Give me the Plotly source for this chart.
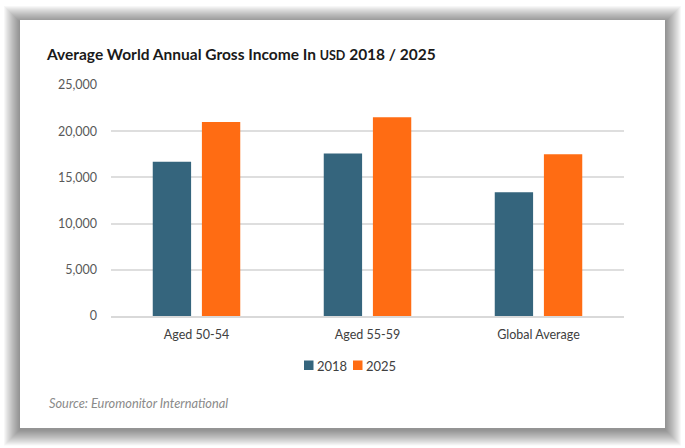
import plotly.graph_objects as go

categories = ["Aged 50-54", "Aged 55-59", "Global Average"]
values_2018 = [16700, 17600, 13400]
values_2025 = [21000, 21500, 17500]
series_names = ["2018", "2025"]
series_colors = ["#35657d", "#ff6c13"]
y_ticks = [0, 5000, 10000, 15000, 20000, 25000]
y_tick_labels = ["0", "5,000", "10,000", "15,000", "20,000", "25,000"]

W, H = 685, 448
L, R, T, B = 111, 61, 85, 132
pw, ph = W - L - R, H - T - B

def px_x(p):
    return (p - L) / pw

def px_y(p):
    return (H - B - p) / ph

fig = go.Figure()
fig.add_trace(go.Bar(x=categories, y=values_2018, name=series_names[0],
                     marker=dict(color=series_colors[0], line=dict(width=0))))
fig.add_trace(go.Bar(x=categories, y=values_2025, name=series_names[1],
                     marker=dict(color=series_colors[1], line=dict(width=0))))

shapes = []
# soft shadow around the card
n_layers = 16
for i in range(n_layers, 0, -1):
    d = i * 1.0
    shapes.append(dict(type="rect", xref="paper", yref="paper", layer="below",
                       x0=px_x(20 - d), x1=px_x(665 + d),
                       y0=px_y(428 + d + 1.5), y1=px_y(20 - d + 2),
                       fillcolor="rgba(0,0,0,0.03)", line=dict(width=0)))
shapes.append(dict(type="rect", xref="paper", yref="paper", layer="below",
                   x0=px_x(20), x1=px_x(665), y0=px_y(428), y1=px_y(20),
                   fillcolor="white", line=dict(width=0)))

annotations = [dict(text="<i>Source: Euromonitor International</i>", xref="paper", yref="paper",
                    x=px_x(47), y=px_y(403), xanchor="left", yanchor="middle", showarrow=False,
                    font=dict(size=12.8, color="#8a8a8a"))]

# custom legend
legend_sq_x = [304, 353]
for name, color, sx in zip(series_names, series_colors, legend_sq_x):
    shapes.append(dict(type="rect", xref="paper", yref="paper",
                       x0=px_x(sx), x1=px_x(sx + 9.5), y0=px_y(370), y1=px_y(360.5),
                       fillcolor=color, line=dict(width=0)))
    annotations.append(dict(text=name, xref="paper", yref="paper",
                            x=px_x(sx + 10.5), y=px_y(365.5), xanchor="left", yanchor="middle",
                            showarrow=False, font=dict(size=13, color="#404040")))

fig.update_layout(
    width=W, height=H,
    margin=dict(l=L, r=R, t=T, b=B),
    paper_bgcolor="white", plot_bgcolor="rgba(0,0,0,0)",
    font=dict(family="Lato, sans-serif", color="#404040", size=12),
    barmode="group", bargap=0.425, bargroupgap=0.22,
    showlegend=False,
    shapes=shapes,
    annotations=annotations,
    title=dict(text="Average World Annual Gross Income In <span style='font-size:12.5px'>USD</span> 2018 / 2025",
               x=47 / W, xanchor="left", y=1 - 55 / H, yanchor="middle",
               font=dict(family="Lato, sans-serif", size=15.5, color="#1a1a1a", weight="bold")),
    xaxis=dict(showgrid=False, showline=True, linecolor="#d9d9d9", linewidth=2,
               ticks="", ticklabelstandoff=6, tickfont=dict(size=12.5, color="#404040")),
    yaxis=dict(range=[0, 25000], tickvals=y_ticks, ticktext=y_tick_labels,
               showgrid=True, gridcolor="#dedede", gridwidth=1.5, zeroline=False,
               showline=False, ticks="", ticklabelstandoff=13,
               tickfont=dict(size=12.5, color="#595959")),
)

fig.write_html("out.html", config={"displayModeBar": False},
               post_script="document.body.style.margin='0';document.body.style.padding='0';document.body.style.overflow='hidden';")
